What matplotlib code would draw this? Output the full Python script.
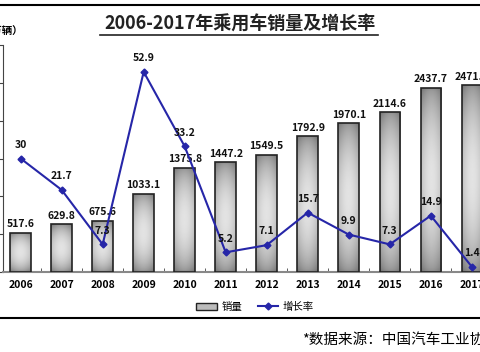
import numpy as np
import matplotlib
matplotlib.use('Agg')
from matplotlib import pyplot as plt
from matplotlib.lines import Line2D
from matplotlib.patches import Patch

plt.rcParams['font.family'] = ['Noto Sans CJK SC', 'DejaVu Sans']

years = ['2006', '2007', '2008', '2009', '2010', '2011',
         '2012', '2013', '2014', '2015', '2016', '2017']
sales = [517.6, 629.8, 675.6, 1033.1, 1375.8, 1447.2,
         1549.5, 1792.9, 1970.1, 2114.6, 2437.7, 2471.8]
growth = [30, 21.7, 7.3, 52.9, 33.2, 5.2, 7.1, 15.7, 9.9, 7.3, 14.9, 1.4]

line_color = '#2626a8'

fig = plt.figure(figsize=(4.8, 3.52), dpi=100)
ax = fig.add_axes([3 / 480, 1 - 272 / 352, 1 - 3 / 480, (272 - 45) / 352])
x = np.arange(len(years))

# bars with a grey gradient fill
bars = ax.bar(x, sales, width=0.5, facecolor='none', edgecolor='#222222', linewidth=1.2, zorder=3)
yy = np.linspace(0, 1, 60)[:, None]
xx = np.linspace(0, 1, 30)[None, :]
grad = 0.45 + 0.32 * np.sin(np.pi * yy) ** 0.7 + 0.12 * np.sin(np.pi * xx)
grad = np.clip(grad, 0, 0.92)
for b in bars:
    im = ax.imshow(grad, cmap='gray', vmin=0, vmax=1, aspect='auto',
                   extent=[b.get_x(), b.get_x() + b.get_width(), 0, b.get_height()],
                   zorder=2, interpolation='bilinear')
    im.set_clip_path(b)
for i, v in enumerate(sales):
    ax.text(i, v + 45, f'{v:.1f}', ha='center', va='bottom', fontsize=7.5,
            fontweight='bold', color='#111111', zorder=5)

ax.set_xlim(-0.43, 11.2)
ax.set_ylim(0, 3000)
ax.set_yticks(np.arange(0, 3001, 500))
ax.set_yticklabels([])
ax.set_xticks(x)
ax.set_xticklabels(years, fontsize=7.5, fontweight='bold')
ax.set_xticks(x[:-1] + 0.5, minor=True)
ax.tick_params(axis='x', which='major', length=0, pad=6)
ax.tick_params(axis='x', which='minor', length=3, direction='in', color='#444444')
ax.tick_params(axis='y', length=4, direction='out', color='#444444')
for s in ['top', 'right']:
    ax.spines[s].set_visible(False)
ax.spines['left'].set_color('#444444')
ax.spines['bottom'].set_color('#888888')
ax.spines['bottom'].set_linewidth(1.5)

ax2 = ax.twinx()
ax2.plot(x, growth, color=line_color, linewidth=1.5, marker='D', markersize=3.5, zorder=6)
for i, v in enumerate(growth):
    ax2.text(i, v + 2.3, f'{v:g}', ha='center', va='bottom', fontsize=7.5,
             fontweight='bold', color='#111111', zorder=7)
ax2.set_ylim(0, 60)
ax2.set_yticks([])
for s in ['top', 'right', 'left', 'bottom']:
    ax2.spines[s].set_visible(False)
ax2.set_zorder(ax.get_zorder() + 1)

# title and decorations
fig.text(240 / 480, 1 - 24 / 352, '2006-2017年乘用车销量及增长率', ha='center', va='center',
         fontsize=13, fontweight='bold', color='#222222')
fig.add_artist(Line2D([100 / 480, 378 / 480], [1 - 35 / 352, 1 - 35 / 352], color='#222222', linewidth=1.2))
fig.text(23 / 480, 1 - 32 / 352, '（万辆）', ha='right', va='center', fontsize=7.5, fontweight='bold')
fig.add_artist(Line2D([0, 1], [1 - 5 / 352, 1 - 5 / 352], color='black', linewidth=1.5))
fig.add_artist(Line2D([0, 1], [1 - 318 / 352, 1 - 318 / 352], color='black', linewidth=1.5))
fig.text(302 / 480, 1 - 340 / 352, '*数据来源：中国汽车工业协会', ha='left', va='center', fontsize=10.5)

handles = [Patch(facecolor='#bbbbbb', edgecolor='#222222', linewidth=1),
           Line2D([], [], color=line_color, marker='D', markersize=3.5, linewidth=1.5)]
fig.legend(handles, ['销量', '增长率'], loc='center', bbox_to_anchor=(255 / 480, 1 - 307 / 352),
           ncol=2, frameon=False, fontsize=7.5, handlelength=2, columnspacing=1.5, handletextpad=0.4)

fig.savefig('out.png', dpi=100)
